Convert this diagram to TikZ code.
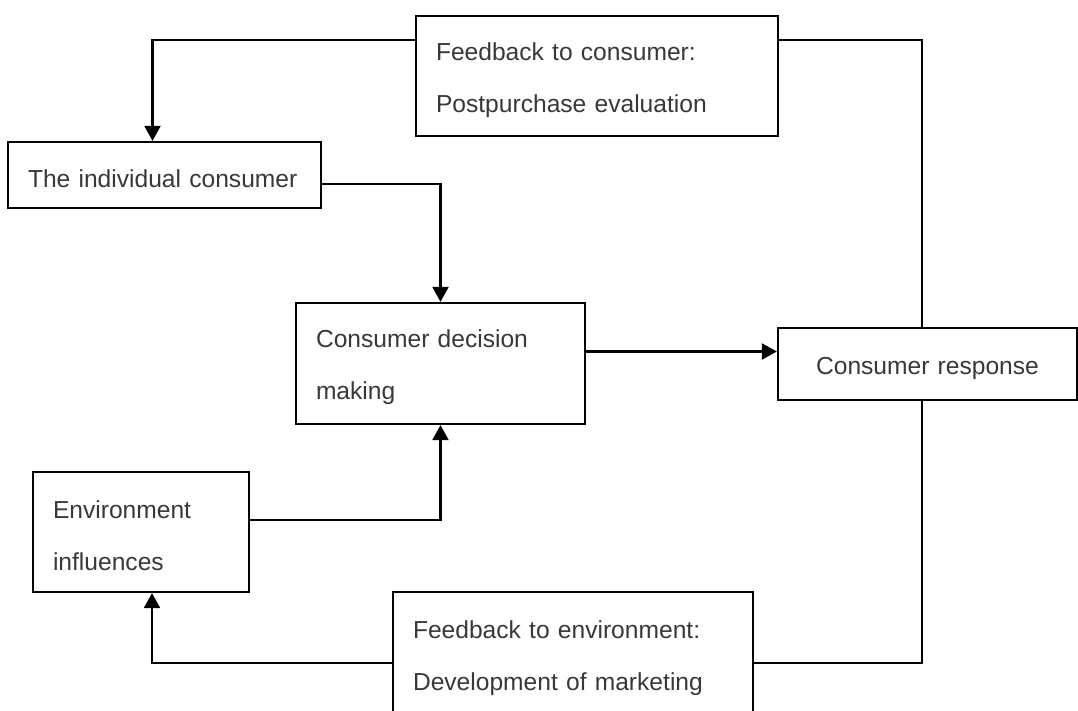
\documentclass[tikz,border=0pt]{standalone}
\usepackage{fontspec}
\setmainfont{Liberation Sans}
\usetikzlibrary{arrows.meta}
\begin{document}
\begin{tikzpicture}[x=1pt,y=-1pt,
  box/.style={draw=black,line width=2.2pt,rectangle,inner xsep=20pt,inner ysep=0pt,
    font=\fontsize{24.6}{52}\selectfont,text=black!78,align=left,
    execute at begin node={\rule{0pt}{26pt}}},
  link/.style={draw=black,line width=2.2pt},
  arr/.style={link,-{Triangle[width=16pt,length=15pt]}}]
\useasboundingbox (0,0) rectangle (1078,711);
% boxes
\node[box,minimum width=362pt,minimum height=120pt,text width=322pt] (fbc) at (597,76)
  {Feedback to consumer:\\Postpurchase evaluation};
\node[box,minimum width=313pt,minimum height=66pt,text width=273pt] (ind) at (164.5,175)
  {The individual consumer};
\node[box,minimum width=289pt,minimum height=121pt,text width=249pt] (dec) at (440.5,363.5)
  {Consumer decision\\making};
\node[box,minimum width=299pt,minimum height=72pt,text width=259pt,align=center] (resp) at (927.5,364)
  {Consumer response};
\node[box,minimum width=216pt,minimum height=120pt,text width=176pt] (env) at (141,532)
  {Environment\\influences};
\node[box,minimum width=360pt,minimum height=124pt,text width=320pt] (fbe) at (573,654)
  {Feedback to environment:\\Development of marketing};
% connectors
\draw[arr] ([yshift=36pt]fbc.west) -| ([xshift=-12pt]ind.north);
\draw[link] ([yshift=36pt]fbc.east) -| ([xshift=-5.5pt]resp.north);
\draw[arr] ([yshift=-9pt]ind.east) -| (dec.north);
\draw[arr] ([yshift=12pt]dec.east) -- ([yshift=12pt]dec.east -| resp.west);
\draw[arr] ([yshift=12pt]env.east) -| (dec.south);
\draw[arr] ([yshift=-9pt]fbe.west) -| ([xshift=11pt]env.south);
\draw[link] ([xshift=-5.5pt]resp.south) |- ([yshift=-9pt]fbe.east);
\end{tikzpicture}
\end{document}
